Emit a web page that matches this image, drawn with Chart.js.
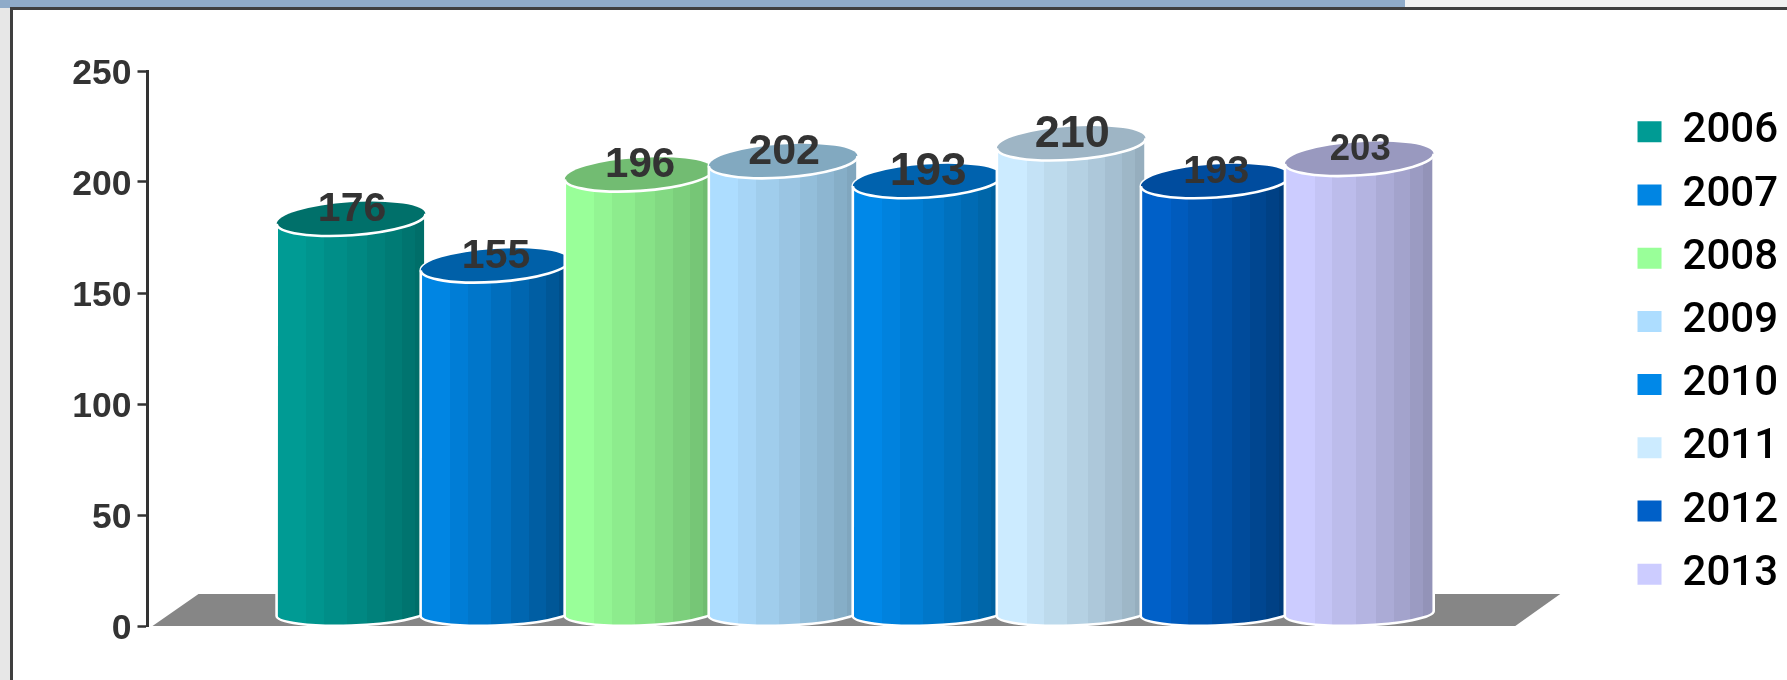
<!DOCTYPE html>
<html>
<head>
<meta charset="utf-8">
<style>
html,body{margin:0;padding:0;background:#fff;overflow:hidden}
#page{position:relative;width:1787px;height:680px;background:#fff;overflow:hidden}
#bandL{position:absolute;left:0;top:0;width:1405px;height:8px;background:#8fabc9}
#bandR{position:absolute;left:1405px;top:0;width:382px;height:8px;background:#f1f1f1}
#side{position:absolute;left:0;top:8px;width:10px;height:672px;background:#e7e7e7}
#lineT{position:absolute;left:10px;top:7px;width:1777px;height:3px;background:#3f3f3f}
#lineL{position:absolute;left:10px;top:7px;width:3px;height:673px;background:#3f3f3f}
canvas{position:absolute;left:0;top:0}
</style>
</head>
<body>
<div id="page">
<div id="bandL"></div><div id="bandR"></div><div id="side"></div><div id="lineT"></div><div id="lineL"></div>
<canvas id="c" width="1787" height="680"></canvas>
</div>
<script src="https://cdn.jsdelivr.net/npm/chart.js@4/dist/chart.umd.min.js"></script>
<script>
const years = [2006, 2007, 2008, 2009, 2010, 2011, 2012, 2013];
const values = [176, 155, 196, 202, 193, 210, 193, 203];
const lightColors = ['#009B94', '#0085E3', '#99FF99', '#ADDDFF', '#0088E8', '#CCEBFF', '#0060C8', '#CCCCFF'];
const darkColors = ['#006E69', '#004F8A', '#70BC70', '#80A6BE', '#00609F', '#96AEBE', '#003C7A', '#9393B8'];
const capColors = ['#00706A', '#0060A8', '#72BC72', '#82A9C0', '#0062AE', '#9EB5C5', '#004C9E', '#9999BF'];
const labelSizes = [41, 41, 42, 43, 46, 45, 39.5, 36.5];
const yTicks = [0, 50, 100, 150, 200, 250];

const INK = '#333333';
const FONT = '"Liberation Sans", Arial, sans-serif';

function hex(c) { return [1, 3, 5].map(i => parseInt(c.substr(i, 2), 16)); }
function mix(a, b, t) {
  const A = hex(a), B = hex(b);
  return 'rgb(' + A.map((v, i) => Math.round(v + (B[i] - v) * t)).join(',') + ')';
}

class CylinderElement extends Chart.BarElement {
  draw(ctx) {
    const i = this.$context ? this.$context.dataIndex : 0;
    const w = this.width, x0 = this.x - w / 2, x1 = this.x + w / 2, rx = w / 2;
    const topY = this.y, baseY = this.base;
    const tilt = -0.068, ry = 16.5, tcy = topY - ry;
    const btilt = -0.034, bry = 12, bcy = baseY - bry;

    const g = ctx.createLinearGradient(x0, 0, x1, 0);
    const edges = [0, 0.2, 0.32, 0.475, 0.61, 0.73, 0.84, 0.93, 1];
    for (let k = 0; k < 8; k++) {
      const col = mix(lightColors[i], darkColors[i], k / 7);
      g.addColorStop(edges[k], col);
      g.addColorStop(edges[k + 1], col);
    }
    ctx.save();
    ctx.beginPath();
    ctx.ellipse(this.x, bcy, rx, bry, btilt, Math.PI, 0, true);
    ctx.ellipse(this.x, tcy, rx, ry, tilt, 0, Math.PI, true);
    ctx.closePath();
    ctx.fillStyle = g;
    ctx.fill();
    ctx.lineWidth = 2.6;
    ctx.strokeStyle = '#ffffff';
    ctx.lineJoin = 'round';
    ctx.stroke();
    ctx.beginPath();
    ctx.ellipse(this.x, tcy, rx, ry, tilt, 0, Math.PI * 2);
    ctx.fillStyle = capColors[i];
    ctx.fill();
    ctx.beginPath();
    ctx.ellipse(this.x, tcy, rx, ry, tilt, 0, Math.PI);
    ctx.lineWidth = 2.6;
    ctx.strokeStyle = '#ffffff';
    ctx.stroke();
    ctx.restore();
  }
}
CylinderElement.id = 'cylinder';
CylinderElement.defaults = Object.assign({}, Chart.BarElement.defaults);
CylinderElement.defaultRoutes = Chart.BarElement.defaultRoutes;

class CylinderController extends Chart.BarController {}
CylinderController.id = 'cylinder';
CylinderController.defaults = Object.assign({}, Chart.BarController.defaults, { dataElementType: 'cylinder' });
CylinderController.overrides = Chart.BarController.overrides;
Chart.register(CylinderElement, CylinderController);

const floorPlugin = {
  id: 'floor',
  beforeDatasetsDraw(chart) {
    const { ctx, scales: { y }, chartArea } = chart;
    const b = y.getPixelForValue(0), back = b - 32;
    const l = chartArea.left + 5;
    const r = chart.scales.x.getPixelForValue(years[years.length - 1]) + 156;
    ctx.save();
    ctx.fillStyle = '#868686';
    ctx.beginPath();
    ctx.moveTo(l, b);
    ctx.lineTo(l + 46, back);
    ctx.lineTo(r + 45, back);
    ctx.lineTo(r, b);
    ctx.closePath();
    ctx.fill();
    ctx.restore();
  }
};

const valueLabels = {
  id: 'valueLabels',
  afterDatasetsDraw(chart) {
    const { ctx } = chart;
    const meta = chart.getDatasetMeta(0);
    ctx.save();
    ctx.textAlign = 'center';
    ctx.textBaseline = 'middle';
    ctx.fillStyle = INK;
    meta.data.forEach((el, i) => {
      ctx.font = 'bold ' + labelSizes[i] + 'px ' + FONT;
      ctx.fillText(String(values[i]), el.x + 1, el.y - 25.5);
    });
    ctx.restore();
  }
};

const legendNudge = {
  id: 'legendNudge',
  afterLayout(chart) {
    const lg = chart.legend;
    lg.left += 6; lg.right += 6;
    lg.top += 4.5; lg.bottom += 4.5;
  }
};

new Chart(document.getElementById('c'), {
  type: 'cylinder',
  data: {
    datasets: [{
      label: 'Years',
      data: years.map((yr, i) => ({ x: yr, y: values[i] })),
      backgroundColor: lightColors,
      barThickness: 149,
      grouped: false
    }]
  },
  options: {
    responsive: false,
    animation: false,
    devicePixelRatio: 1,
    layout: { padding: { top: 71, bottom: 54, right: 5, left: 0 } },
    scales: {
      x: { type: 'linear', display: false, min: 2004.5868, max: 2014.743, offset: false, grid: { display: false } },
      y: {
        min: 0, max: 250,
        afterBuildTicks(scale) { scale.ticks = yTicks.map(v => ({ value: v })); },
        afterFit(scale) { scale.width = 147.5; },
        border: { display: true, color: INK, width: 3 },
        grid: { drawOnChartArea: false, drawTicks: true, tickLength: 10, tickColor: INK, tickWidth: 2.5 },
        ticks: {
          color: INK, padding: 6,
          font: { family: FONT, size: 35.5, weight: 'bold', lineHeight: '6px' },
          callback(v) { return ['', String(v)]; }
        }
      }
    },
    plugins: {
      tooltip: { enabled: false },
      legend: {
        display: true,
        position: 'right',
        align: 'center',
        labels: {
          boxWidth: 24,
          boxHeight: 21,
          padding: 21.2,
          color: '#333333',
          font: { family: 'Roboto, ' + FONT, size: 42, weight: '500' },
          generateLabels() {
            return years.map((yr, i) => ({
              text: String(yr),
              fillStyle: lightColors[i],
              strokeStyle: lightColors[i],
              lineWidth: 0,
              hidden: false,
              index: i,
              datasetIndex: 0
            }));
          }
        }
      }
    }
  },
  plugins: [floorPlugin, valueLabels, legendNudge]
});
</script>
</body>
</html>
